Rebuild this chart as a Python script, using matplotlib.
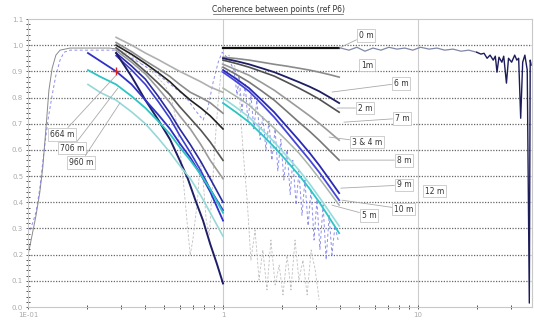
import numpy as np
import matplotlib.pyplot as plt
from matplotlib.lines import Line2D

# ---- measured coherence (thin lines) ----
meas_blue_f = [0.1024, 0.106, 0.110, 0.115, 0.121, 0.127, 0.133, 0.139, 0.146, 0.153, 0.164, 0.185,
               0.208, 0.234, 0.263, 0.289, 0.315, 0.354, 0.398, 0.449, 0.505, 0.568, 0.640, 0.720,
               0.790, 0.836, 0.890, 0.945, 0.99, 1.024, 1.073, 1.139, 1.18, 1.208, 1.25, 1.30, 1.34,
               1.39, 1.44, 1.49, 1.55, 1.60, 1.66, 1.72, 1.78, 1.85, 1.91, 1.98, 2.05, 2.13, 2.21,
               2.28, 2.37, 2.45, 2.54, 2.63, 2.73, 2.83, 2.93, 3.03, 3.14, 3.26, 3.38, 3.50, 3.62,
               3.75, 3.89]
meas_blue_c = [0.294, 0.324, 0.363, 0.454, 0.599, 0.721, 0.809, 0.885, 0.943, 0.973, 0.981, 0.981,
               0.981, 0.981, 0.981, 0.981, 0.962, 0.943, 0.920, 0.897, 0.866, 0.836, 0.805, 0.752,
               0.714, 0.760, 0.859, 0.935, 0.973, 0.962, 0.943, 0.905, 0.81, 0.885, 0.75, 0.85, 0.71,
               0.81, 0.68, 0.79, 0.64, 0.73, 0.60, 0.71, 0.56, 0.68, 0.52, 0.64, 0.485, 0.60, 0.43,
               0.56, 0.39, 0.52, 0.35, 0.485, 0.31, 0.45, 0.256, 0.41, 0.22, 0.39, 0.18, 0.35, 0.20,
               0.31, 0.256]

meas_grey_f1 = [0.100, 0.105, 0.110, 0.115, 0.119, 0.124, 0.128, 0.133, 0.139, 0.146, 0.164, 0.208,
                0.263, 0.286]
meas_grey_c1 = [0.198, 0.275, 0.351, 0.439, 0.531, 0.695, 0.828, 0.912, 0.962, 0.981, 0.989, 0.989,
                0.989, 0.985]
meas_grey_f2 = [0.286, 0.334, 0.423, 0.505, 0.547, 0.574, 0.603, 0.632, 0.66, 0.679, 0.70, 0.74,
                0.764, 0.79, 0.82, 0.85, 0.88, 0.912, 0.945, 0.98, 1.0, 1.073, 1.139, 1.208, 1.266,
                1.33, 1.39, 1.46, 1.53, 1.60, 1.68, 1.76, 1.85, 1.94, 2.03, 2.13, 2.23, 2.34, 2.45,
                2.57, 2.70, 2.83, 2.97, 3.11]
meas_grey_c2 = [0.985, 0.962, 0.905, 0.847, 0.790, 0.714, 0.599, 0.447, 0.294, 0.198, 0.256, 0.408,
                0.561, 0.485, 0.332, 0.275, 0.447, 0.637, 0.790, 0.905, 0.950, 0.962, 0.935, 0.828,
                0.599, 0.408, 0.179, 0.294, 0.103, 0.218, 0.065, 0.256, 0.084, 0.160, 0.046, 0.198,
                0.065, 0.256, 0.103, 0.179, 0.046, 0.218, 0.141, 0.027]

# 0 m measured coherence, high frequencies
meas_zero_f1 = [4.02, 4.42, 4.86, 5.34, 5.87, 6.45, 7.09, 7.79, 8.56, 9.40, 10.3, 11.4, 12.5, 13.7,
                15.1, 16.6, 18.2, 20.0]
meas_zero_c1 = [0.989, 0.981, 0.992, 0.977, 0.989, 0.981, 0.992, 0.985, 0.989, 0.981, 0.992, 0.985,
                0.989, 0.981, 0.985, 0.977, 0.981, 0.973]
meas_zero_f2 = [20.0, 21.0, 21.8, 22.6, 23.4, 24.3, 24.9, 25.4, 26.0, 26.9, 27.5, 28.4, 29.1, 30.2,
                31.3, 32.1, 32.8, 33.6, 34.4, 35.3, 36.3, 37.2, 37.6, 38.0]
meas_zero_c2 = [0.973, 0.966, 0.969, 0.950, 0.962, 0.943, 0.958, 0.897, 0.954, 0.935, 0.958, 0.855,
                0.950, 0.935, 0.962, 0.943, 0.950, 0.721, 0.935, 0.962, 0.905, 0.015, 0.943, 0.924]

# ---- model curves, low frequency group (large separations) ----
f_low = [0.283, 0.34, 0.40, 0.465, 0.535, 0.60, 0.68, 0.77, 0.86, 1.0]
low_curves = {
    'L1': [1.03, 1.00, 0.97, 0.945, 0.92, 0.90, 0.88, 0.86, 0.84, 0.82],
    'L2': [1.01, 0.975, 0.94, 0.91, 0.88, 0.85, 0.82, 0.80, 0.78, 0.74],
    'L3': [1.00, 0.965, 0.93, 0.895, 0.86, 0.825, 0.79, 0.76, 0.73, 0.68],
    'L4': [0.99, 0.945, 0.90, 0.855, 0.81, 0.765, 0.72, 0.675, 0.63, 0.56],
    'L5': [0.98, 0.935, 0.89, 0.835, 0.78, 0.73, 0.68, 0.62, 0.56, 0.49],
    'L6': [0.97, 0.92, 0.87, 0.805, 0.74, 0.68, 0.62, 0.555, 0.49, 0.40],
    'L7': [0.96, 0.905, 0.85, 0.785, 0.72, 0.655, 0.59, 0.52, 0.45, 0.37],
}
f_steep = [0.283, 0.34, 0.40, 0.465, 0.535, 0.60, 0.66, 0.72, 0.79, 0.86, 0.93, 1.0]
c_steep = [0.97, 0.88, 0.79, 0.715, 0.64, 0.56, 0.49, 0.41, 0.33, 0.24, 0.165, 0.09]
f_far = [0.203, 0.234, 0.283, 0.34, 0.40, 0.465, 0.535, 0.60, 0.68, 0.77, 0.86, 1.0]
c_664 = [0.97, 0.94, 0.90, 0.85, 0.79, 0.735, 0.68, 0.625, 0.57, 0.505, 0.44, 0.33]
c_706 = [0.905, 0.88, 0.85, 0.805, 0.76, 0.71, 0.66, 0.61, 0.56, 0.505, 0.45, 0.36]
c_960 = [0.85, 0.82, 0.79, 0.745, 0.70, 0.645, 0.59, 0.54, 0.49, 0.425, 0.36, 0.27]

# ---- model curves, 1-4 Hz group (small separations) ----
f_high = [1.0, 1.17, 1.36, 1.58, 1.83, 2.12, 2.45, 2.77, 3.11, 3.50, 3.94]
c_0m = [0.988] * 11
c_1m = [0.954, 0.949, 0.943, 0.935, 0.927, 0.920, 0.912, 0.905, 0.897, 0.888, 0.878]
c_6m = [0.950, 0.939, 0.927, 0.912, 0.897, 0.878, 0.859, 0.842, 0.824, 0.802, 0.779]
c_2m = [0.943, 0.930, 0.916, 0.899, 0.882, 0.859, 0.836, 0.815, 0.794, 0.769, 0.744]
c_7m = [0.927, 0.906, 0.885, 0.857, 0.828, 0.794, 0.760, 0.731, 0.702, 0.670, 0.637]
c_34m = [0.916, 0.888, 0.859, 0.825, 0.790, 0.748, 0.706, 0.672, 0.637, 0.599, 0.561]
c_8m = [0.905, 0.871, 0.836, 0.790, 0.744, 0.690, 0.637, 0.590, 0.542, 0.489, 0.435]
c_9m = [0.897, 0.861, 0.824, 0.775, 0.725, 0.668, 0.611, 0.563, 0.515, 0.462, 0.408]
c_10m = [0.836, 0.804, 0.771, 0.727, 0.683, 0.636, 0.588, 0.540, 0.492, 0.441, 0.389]
c_5m = [0.779, 0.743, 0.706, 0.659, 0.611, 0.558, 0.504, 0.453, 0.401, 0.342, 0.282]
c_12m = [0.798, 0.762, 0.725, 0.678, 0.630, 0.577, 0.523, 0.472, 0.420, 0.365, 0.309]

# labels: text, label position, leader target (None = no leader)
labels = [
    ('664 m', (0.149, 0.660), (0.283, 0.885)),
    ('706 m', (0.168, 0.607), (0.289, 0.836)),
    ('960 m', (0.187, 0.553), (0.296, 0.779)),
    ('0 m', (5.41, 1.038), (3.94, 0.989)),
    ('1m', (5.47, 0.924), None),
    ('6 m', (8.18, 0.855), (3.62, 0.821)),
    ('2 m', (5.34, 0.760), (3.84, 0.760)),
    ('7 m', (8.27, 0.721), (4.17, 0.706)),
    ('3 & 4 m', (5.47, 0.630), (3.50, 0.649)),
    ('8 m', (8.46, 0.561), (4.02, 0.561)),
    ('9 m', (8.46, 0.466), (4.02, 0.454)),
    ('12 m', (12.1, 0.443), None),
    ('10 m', (8.46, 0.374), (4.07, 0.408)),
    ('5 m', (5.60, 0.351), (3.62, 0.389)),
]

fig = plt.figure(figsize=(5.34, 3.26), dpi=100)
ax = fig.add_axes([28 / 534, 19 / 326, 504 / 534, 288 / 326])
ax.set_xscale('log')
ax.set_xlim(0.1, 38.4)
ax.set_ylim(0, 1.1)

# grid
for y in np.arange(0.1, 1.01, 0.1):
    ax.axhline(y, color='#666666', lw=0.9, ls=(0, (1, 1.2)), zorder=0)
for x in [1, 10]:
    ax.axvline(x, color='#cccccc', lw=0.8, zorder=0)

# measured data
ax.plot(meas_grey_f1, meas_grey_c1, color='#8a8a8a', lw=0.7, zorder=1)
ax.plot(meas_grey_f2, meas_grey_c2, color='#c0c0c0', lw=0.6, ls=(0, (3, 2)), zorder=1)
ax.plot(meas_blue_f, meas_blue_c, color='#7a7ae8', lw=0.7, ls=(0, (3, 2.5)), alpha=0.85, zorder=1)
ax.plot(meas_zero_f1, meas_zero_c1, color='#8088a8', lw=0.9, zorder=2)
ax.plot(meas_zero_f2, meas_zero_c2, color='#1c1c5a', lw=1.0, zorder=2)

# low frequency model curves
low_colors = ['#b0b0b0', '#8c8c8c', '#222222', '#555555', '#9a9a9a', '#2a2aa0', '#3c3cd0']
for (name, vals), col in zip(low_curves.items(), low_colors):
    ax.plot(f_low, vals, color=col, lw=1.2, zorder=3)
ax.plot(f_steep, c_steep, color='#1e1e66', lw=1.4, zorder=3)
ax.plot(f_far, c_664, color='#3030c8', lw=1.3, zorder=3)
ax.plot(f_far, c_706, color='#2ec4c4', lw=1.3, zorder=3)
ax.plot(f_far, c_960, color='#96d8d8', lw=1.2, zorder=3)
ax.plot([0.283], [0.90], marker='+', color='#dd2222', ms=6, mew=1.0, zorder=4)

# 1-4 Hz model curves
ax.plot(f_high, c_0m, color='#111111', lw=1.6, zorder=3)
ax.plot(f_high, c_1m, color='#8a8a8a', lw=1.2, zorder=3)
ax.plot(f_high, c_6m, color='#1e1e64', lw=1.3, zorder=3)
ax.plot(f_high, c_2m, color='#505050', lw=1.2, zorder=3)
ax.plot(f_high, c_7m, color='#9a9a9a', lw=1.2, zorder=3)
ax.plot(f_high, c_34m, color='#777777', lw=1.2, zorder=3)
ax.plot(f_high, c_8m, color='#2a2ab4', lw=1.3, zorder=3)
ax.plot(f_high, c_9m, color='#4646dc', lw=1.3, zorder=3)
ax.plot(f_high, c_10m, color='#a8b4a8', lw=1.1, zorder=3)
ax.plot(f_high, c_12m, color='#92dcdc', lw=1.2, zorder=3)
ax.plot(f_high, c_5m, color='#2cc4c4', lw=1.3, zorder=3)

# labels with leader lines
box = dict(boxstyle='square,pad=0.25', fc='white', ec='#bbbbbb', lw=0.5)
for text, pos, target in labels:
    if target is None:
        ax.text(pos[0], pos[1], text, fontsize=5.5, color='#333333', ha='center', va='center',
                bbox=box, zorder=6)
    else:
        ax.annotate(text, xy=target, xytext=pos, fontsize=5.5, color='#333333',
                    ha='center', va='center', bbox=box, zorder=6,
                    arrowprops=dict(arrowstyle='-', color='#aaaaaa', lw=0.6,
                                    shrinkA=0, shrinkB=0))

# axes styling
for s in ax.spines.values():
    s.set_color('#c8c8c8')
    s.set_linewidth(0.8)
ax.set_yticks(np.arange(0, 1.11, 0.1))
ax.set_yticklabels(['%.1f' % v for v in np.arange(0, 1.11, 0.1)])
ax.set_yticks(np.arange(0, 1.1, 0.02), minor=True)
ax.set_xticks([0.1, 1, 10])
ax.set_xticklabels(['1E-01', '1', '10'])
ax.set_xticks([0.2, 0.3, 0.4, 0.5, 0.6, 0.7, 0.8, 0.9, 2, 3, 4, 5, 6, 7, 8, 9, 20, 30], minor=True)
ax.xaxis.set_minor_formatter(plt.NullFormatter())
ax.tick_params(axis='both', which='major', labelsize=5, labelcolor='#aaaaaa', color='#444444',
               length=3, width=0.6, direction='inout', pad=2)
ax.tick_params(axis='both', which='minor', color='#333333', length=2.5, width=0.6,
               direction='inout')

# title, underlined
fig.text(278 / 534, 1 - 9 / 326, 'Coherence between points (ref P6)', fontsize=5.5,
         color='#333333', ha='center', va='center')
fig.add_artist(Line2D([213 / 534, 343 / 534], [1 - 13.5 / 326, 1 - 13.5 / 326],
                      color='#555555', lw=0.5))

plt.savefig('out.png', dpi=100)
